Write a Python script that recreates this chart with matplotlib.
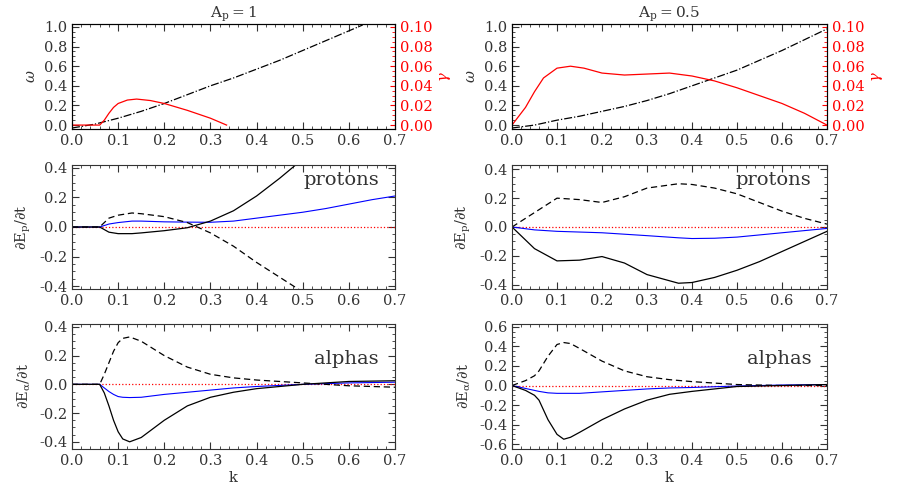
import matplotlib
matplotlib.use("Agg")
import matplotlib.pyplot as plt
from matplotlib.ticker import MultipleLocator
import numpy as np

plt.rcParams["font.family"] = "DejaVu Serif"
plt.rcParams["mathtext.fontset"] = "dejavuserif"
plt.rcParams["font.size"] = 10.5

# ---- top row: dispersion (omega, dash-dot) and growth rate (gamma, red) ----
k_om1 = [0.0, 0.05, 0.1, 0.15, 0.2, 0.25, 0.3, 0.35, 0.4, 0.45, 0.5, 0.55, 0.6, 0.63]
om1 = [-0.03, 0.01, 0.07, 0.14, 0.22, 0.31, 0.40, 0.48, 0.57, 0.66, 0.76, 0.86, 0.96, 1.02]
k_g1 = [0.0, 0.06, 0.07, 0.08, 0.09, 0.1, 0.12, 0.14, 0.17, 0.2, 0.25, 0.3, 0.335]
g1 = [0.0, 0.0, 0.005, 0.012, 0.018, 0.022, 0.0255, 0.0265, 0.025, 0.022, 0.015, 0.007, 0.0]

k_om2 = [0.0, 0.05, 0.1, 0.15, 0.2, 0.25, 0.3, 0.35, 0.4, 0.45, 0.5, 0.55, 0.6, 0.65, 0.7]
om2 = [-0.03, 0.0, 0.05, 0.09, 0.14, 0.19, 0.25, 0.32, 0.40, 0.48, 0.56, 0.66, 0.76, 0.87, 0.98]
k_g2 = [0.0, 0.03, 0.05, 0.07, 0.1, 0.13, 0.16, 0.2, 0.25, 0.3, 0.35, 0.4, 0.45, 0.5, 0.55, 0.6, 0.65, 0.7]
g2 = [0.0, 0.018, 0.034, 0.048, 0.058, 0.06, 0.058, 0.053, 0.051, 0.052, 0.053, 0.05, 0.045, 0.038, 0.03, 0.022, 0.012, 0.0]

# ---- middle row: proton energy transfer ----
k_p1 = [0.0, 0.06, 0.08, 0.1, 0.13, 0.15, 0.2, 0.25, 0.3, 0.35, 0.4, 0.45, 0.5, 0.55, 0.6, 0.65, 0.7]
p1_solid = [0.0, 0.0, -0.035, -0.045, -0.045, -0.04, -0.025, -0.005, 0.04, 0.11, 0.21, 0.33, 0.46, 0.6, 0.75, 0.9, 1.05]
p1_dash = [0.0, 0.0, 0.06, 0.08, 0.095, 0.09, 0.07, 0.03, -0.04, -0.13, -0.24, -0.34, -0.44, -0.55, -0.66, -0.77, -0.88]
p1_blue = [0.0, 0.0, 0.02, 0.03, 0.04, 0.04, 0.035, 0.033, 0.032, 0.04, 0.06, 0.08, 0.1, 0.125, 0.155, 0.185, 0.21]

k_p2 = [0.0, 0.05, 0.1, 0.15, 0.2, 0.25, 0.3, 0.37, 0.4, 0.45, 0.5, 0.55, 0.6, 0.65, 0.7]
p2_solid = [0.0, -0.15, -0.235, -0.23, -0.205, -0.25, -0.33, -0.39, -0.385, -0.35, -0.3, -0.24, -0.17, -0.1, -0.03]
p2_dash = [0.0, 0.1, 0.2, 0.19, 0.17, 0.21, 0.27, 0.3, 0.295, 0.27, 0.23, 0.17, 0.11, 0.06, 0.02]
p2_blue = [0.0, -0.02, -0.03, -0.035, -0.04, -0.05, -0.06, -0.075, -0.08, -0.078, -0.07, -0.055, -0.04, -0.025, -0.01]

# ---- bottom row: alpha energy transfer ----
k_a1 = [0.0, 0.06, 0.07, 0.08, 0.09, 0.1, 0.11, 0.125, 0.15, 0.2, 0.25, 0.3, 0.35, 0.4, 0.5, 0.6, 0.7]
a1_solid = [0.0, 0.0, -0.06, -0.15, -0.25, -0.33, -0.38, -0.40, -0.37, -0.25, -0.15, -0.09, -0.055, -0.03, 0.0, 0.02, 0.025]
a1_dash = [0.0, 0.0, 0.07, 0.15, 0.23, 0.29, 0.32, 0.33, 0.30, 0.20, 0.12, 0.07, 0.045, 0.03, 0.01, -0.01, -0.02]
a1_blue = [0.0, 0.0, -0.025, -0.05, -0.07, -0.085, -0.09, -0.092, -0.09, -0.07, -0.055, -0.04, -0.025, -0.015, 0.0, 0.01, 0.015]

k_a2 = [0.0, 0.03, 0.05, 0.06, 0.08, 0.1, 0.115, 0.13, 0.15, 0.2, 0.25, 0.3, 0.35, 0.4, 0.5, 0.6, 0.7]
a2_solid = [0.0, -0.05, -0.1, -0.15, -0.35, -0.5, -0.55, -0.53, -0.48, -0.35, -0.24, -0.15, -0.09, -0.06, -0.01, 0.0, 0.01]
a2_dash = [0.0, 0.05, 0.1, 0.15, 0.3, 0.42, 0.44, 0.43, 0.38, 0.25, 0.15, 0.09, 0.06, 0.04, 0.01, 0.0, 0.0]
a2_blue = [0.0, -0.03, -0.05, -0.06, -0.075, -0.08, -0.08, -0.08, -0.08, -0.065, -0.05, -0.035, -0.025, -0.02, -0.005, 0.005, 0.01]

TXT = "#333333"


def style(ax, ylim, yticks, yminor):
    ax.set_xlim(0, 0.7)
    ax.set_ylim(*ylim)
    ax.set_xticks(np.arange(0, 0.71, 0.1))
    ax.xaxis.set_minor_locator(MultipleLocator(0.02))
    ax.set_yticks(yticks)
    ax.yaxis.set_minor_locator(MultipleLocator(yminor))
    ax.tick_params(which="both", direction="in", top=True, right=True, colors=TXT, labelsize=10.5)
    ax.tick_params(which="major", length=5)
    ax.tick_params(which="minor", length=2.5)
    ax.yaxis.set_major_formatter(matplotlib.ticker.FormatStrFormatter("%.1f"))
    ax.xaxis.set_major_formatter(matplotlib.ticker.FormatStrFormatter("%.1f"))
    for s in ax.spines.values():
        s.set_color(TXT)


fig = plt.figure(figsize=(8.99, 4.99), dpi=100)
W, H = 899, 499
cols = [(72, 395), (512, 827)]
rows = [(24, 129), (165, 289), (324, 449)]


def mkax(c, r):
    x0, x1 = cols[c]
    y0, y1 = rows[r]
    return fig.add_axes([x0 / W, 1 - y1 / H, (x1 - x0) / W, (y1 - y0) / H])


for c, (kom, om, kg, g, title) in enumerate([(k_om1, om1, k_g1, g1, r"$\mathrm{A_p=1}$"),
                                             (k_om2, om2, k_g2, g2, r"$\mathrm{A_p=0.5}$")]):
    ax = mkax(c, 0)
    ax.plot(kom, om, color="black", lw=0.9, ls="-.")
    style(ax, (-0.04, 1.03), np.arange(0, 1.01, 0.2), 0.05)
    ax.tick_params(right=False, which="both")
    ax.set_ylabel(r"$\omega$", color=TXT)
    ax.set_title(title, color=TXT, fontsize=11, pad=4)
    ax2 = ax.twinx()
    ax2.plot(kg, g, color="red", lw=0.9)
    ax2.set_ylim(-0.004, 0.103)
    ax2.set_yticks(np.arange(0, 0.101, 0.02))
    ax2.yaxis.set_minor_locator(MultipleLocator(0.005))
    ax2.yaxis.set_major_formatter(matplotlib.ticker.FormatStrFormatter("%.2f"))
    ax2.tick_params(which="both", direction="in", colors="red", labelsize=10.5)
    ax2.tick_params(which="minor", length=2.5)
    ax2.set_ylabel(r"$\gamma$", color="red")

panels = [
    (0, 1, k_p1, p1_solid, p1_dash, p1_blue, (-0.42, 0.42), np.arange(-0.4, 0.41, 0.2), "protons", r"$\partial\mathrm{E_p}/\partial\mathrm{t}$"),
    (1, 1, k_p2, p2_solid, p2_dash, p2_blue, (-0.43, 0.43), np.arange(-0.4, 0.41, 0.2), "protons", r"$\partial\mathrm{E_p}/\partial\mathrm{t}$"),
    (0, 2, k_a1, a1_solid, a1_dash, a1_blue, (-0.45, 0.42), np.arange(-0.4, 0.41, 0.2), "alphas", r"$\partial\mathrm{E_\alpha}/\partial\mathrm{t}$"),
    (1, 2, k_a2, a2_solid, a2_dash, a2_blue, (-0.65, 0.63), np.arange(-0.6, 0.61, 0.2), "alphas", r"$\partial\mathrm{E_\alpha}/\partial\mathrm{t}$"),
]
for c, r, kk, sol, dsh, blu, yl, yt, lab, ylab in panels:
    ax = mkax(c, r)
    ax.axhline(0, color="red", lw=0.9, ls=":")
    ax.plot(kk, blu, color="blue", lw=0.8)
    ax.plot(kk, sol, color="black", lw=0.9)
    ax.plot(kk, dsh, color="black", lw=0.9, ls=(0, (5, 3)))
    style(ax, yl, yt, 0.05)
    ax.set_ylabel(ylab, color=TXT)
    ax.text(0.95, 0.88 if r == 1 else 0.72, lab, transform=ax.transAxes, ha="right", va="center",
            fontsize=14, color=TXT)
    if r == 2:
        ax.set_xlabel("k", color=TXT, labelpad=2)

fig.savefig("out.png", dpi=100)
